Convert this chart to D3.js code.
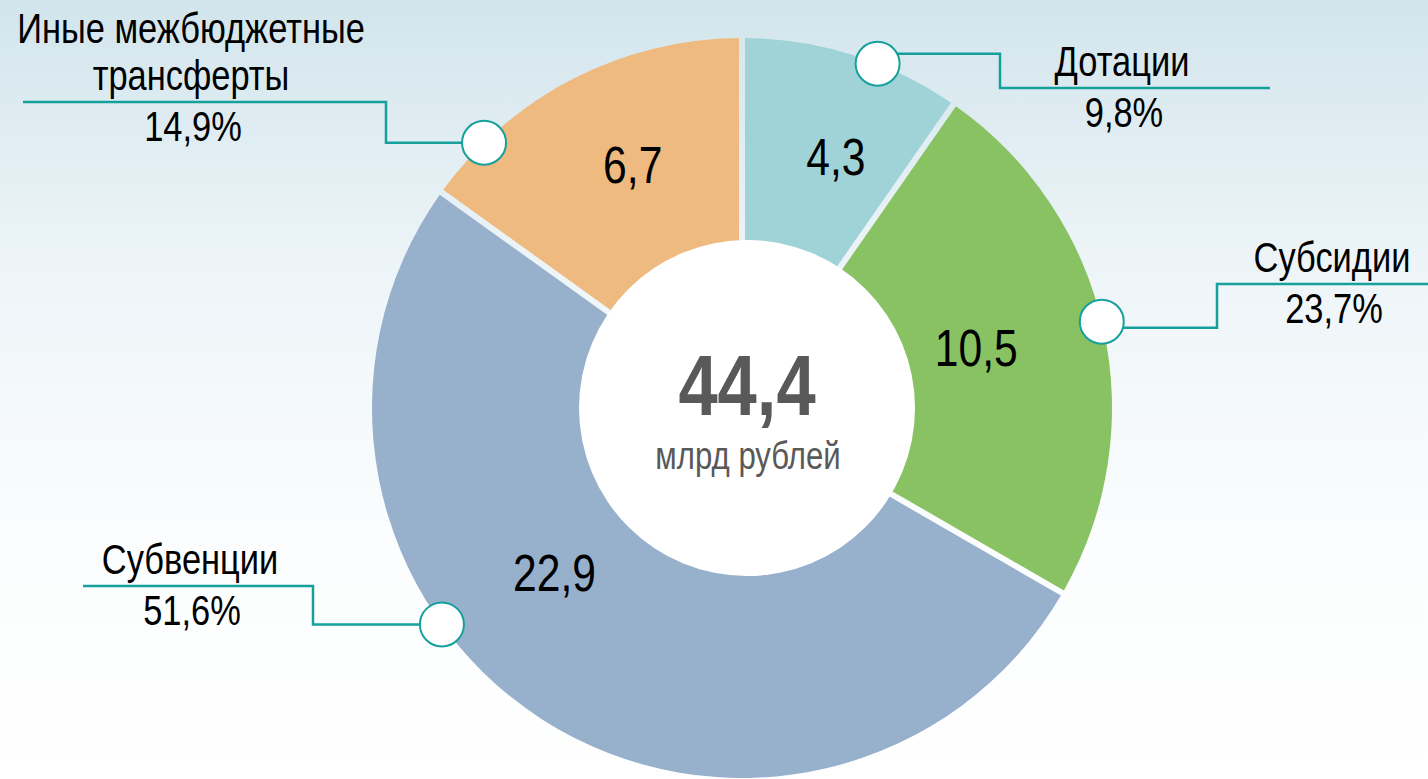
<!DOCTYPE html>
<meta charset="utf-8">
<style>
html, body {
    margin: 0;
    padding: 0;
    background: white;
}
svg {
    display: block;
}
text {
    font-family: "Liberation Sans", Arial, sans-serif;
}
</style>
<body>
<script src="https://cdnjs.cloudflare.com/ajax/libs/d3/7.8.5/d3.min.js"></script>
<script>

// data
var categories = ["Дотации", "Субсидии", "Субвенции", "Иные межбюджетные трансферты"];
var values = [4.3, 10.5, 22.9, 6.7];
var valueLabels = ["4,3", "10,5", "22,9", "6,7"];
var shareLabels = ["9,8%", "23,7%", "51,6%", "14,9%"];
var nameLines = [["Дотации"], ["Субсидии"], ["Субвенции"], ["Иные межбюджетные", "трансферты"]];
var totalLabel = "44,4";
var unitLabel = "млрд рублей";

var colors = ["#9fd3d8", "#88c262", "#97b0cc", "#efba80"];

var width = 1428,
    height = 779;

var cx = 742, cy = 408,
    outerR = 370, innerR = 168;

// no narrow font installed -> squeeze Liberation Sans horizontally
var narrow = 0.82;

// callout layout (angle in degrees from top, clockwise)
var callouts = [
    {angle: 21.5, elbowX: 1000, lineY: 88, endX: 1270, textX: 1122, stubDy: -10},
    {angle: 76.5, elbowX: 1217, lineY: 284, endX: 1428, textX: 1332, stubDy: 6},
    {angle: 234.2, elbowX: 313, lineY: 586, endX: 83, textX: 190, stubDy: 0},
    {angle: 315.8, elbowX: 386, lineY: 102, endX: 23, textX: 191, stubDy: 0}
];
// small nudges for value labels inside slices
var labelNudge = [{da: 3, r: 269}, {da: -2, r: 242}, {da: 16, r: 249}, {da: 3, r: 267}];

var svg = d3.select("body").append("svg")
    .attr("width", width)
    .attr("height", height);

var defs = svg.append("defs");
var grad = defs.append("linearGradient")
    .attr("id", "bg")
    .attr("x1", 0).attr("y1", 0)
    .attr("x2", 0).attr("y2", 1);
grad.append("stop").attr("offset", "0%").attr("stop-color", "#d2e5ec");
grad.append("stop").attr("offset", "35%").attr("stop-color", "#eef5f8");
grad.append("stop").attr("offset", "70%").attr("stop-color", "#fbfdfe");
grad.append("stop").attr("offset", "100%").attr("stop-color", "#ffffff");

svg.append("rect")
    .attr("width", width)
    .attr("height", height)
    .attr("fill", "url(#bg)");

function addText(parent, x, y, str, size, opts) {
    opts = opts || {};
    var t = parent.append("g")
        .attr("transform", "translate(" + x + "," + y + ") scale(" + narrow + ",1)")
      .append("text")
        .attr("text-anchor", "middle")
        .attr("font-size", size)
        .attr("fill", opts.fill || "#000")
        .text(str);
    if (opts.bold) t.attr("font-weight", "bold");
    if (opts.dy) t.attr("dy", opts.dy);
    return t;
}

var pie = d3.pie().sort(null).value(d => d);
var arcs = pie(values);

var arc = d3.arc()
    .innerRadius(innerR - 10)
    .outerRadius(outerR)
    .padRadius(outerR)
    .padAngle(6 / outerR);

var g = svg.append("g").attr("transform", "translate(" + cx + "," + cy + ")");

g.selectAll("path.slice")
    .data(arcs)
    .enter().append("path")
    .attr("class", "slice")
    .attr("d", arc)
    .attr("fill", (d, i) => colors[i]);

// center disk
g.append("circle")
    .attr("cx", 5)
    .attr("r", innerR)
    .attr("fill", "#ffffff");

addText(g, 5, 7, totalLabel, 86, {bold: true, fill: "#595959"});
addText(g, 6, 61, unitLabel, 38, {fill: "#595959"});

// values inside slices
function polar(angleDeg, r) {
    var a = angleDeg * Math.PI / 180;
    return [Math.sin(a) * r, -Math.cos(a) * r];
}

arcs.forEach(function(d, i) {
    var mid = (d.startAngle + d.endAngle) / 2 * 180 / Math.PI + labelNudge[i].da;
    var p = polar(mid, labelNudge[i].r);
    addText(g, p[0], p[1], valueLabels[i], 52, {dy: "0.36em"});
});

// callouts
var teal = "#16a09c";
callouts.forEach(function(c, i) {
    var p = polar(c.angle, outerR);
    var px = cx + p[0], py = cy + p[1];
    var sy = py + c.stubDy;
    var pts = [[px, sy], [c.elbowX, sy], [c.elbowX, c.lineY], [c.endX, c.lineY]];
    svg.append("path")
        .attr("d", d3.line()(pts))
        .attr("fill", "none")
        .attr("stroke", teal)
        .attr("stroke-width", 2.5);
    svg.append("circle")
        .attr("cx", px)
        .attr("cy", py)
        .attr("r", 22)
        .attr("fill", "#fff")
        .attr("stroke", teal)
        .attr("stroke-width", 2);

    var lines = nameLines[i];
    var lh = 47;
    lines.forEach(function(t, k) {
        addText(svg, c.textX, c.lineY - 12 - (lines.length - 1 - k) * lh, t, 42);
    });
    addText(svg, c.textX + 2, c.lineY + 39, shareLabels[i], 42);
});

</script>
